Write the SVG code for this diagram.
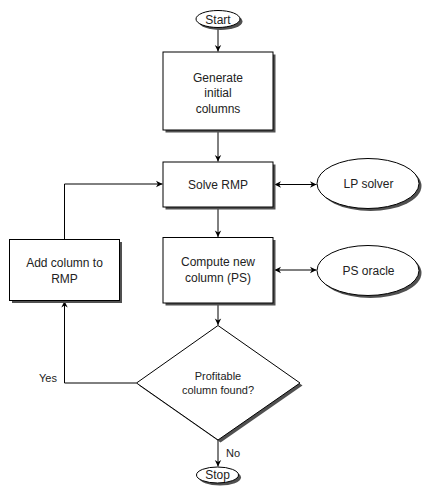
<svg xmlns="http://www.w3.org/2000/svg" width="422" height="486" viewBox="0 0 422 486">
<style>
.n{fill:#fff;stroke:#000;stroke-width:1}
.sh{fill:#505050;stroke:none}
.t{font-family:"Liberation Sans",Arial,sans-serif;font-size:12px;fill:#222;text-anchor:middle}
.s{font-size:11px}
.c{fill:none;stroke:#000;stroke-width:1}
</style>
<defs>
<marker id="ah" viewBox="-7 -4 8 8" refX="0" refY="0" markerWidth="8" markerHeight="8" markerUnits="userSpaceOnUse" orient="auto-start-reverse">
<path d="M0,0 L-6.5,-3.2 L-4.6,0 L-6.5,3.2 Z" fill="#000"/>
</marker>
</defs>
<rect width="422" height="486" fill="#fff"/>
<g id="connectors">
<path class="c" d="M218,28 V51.5" marker-end="url(#ah)"/>
<path class="c" d="M218,130 V161.5" marker-end="url(#ah)"/>
<path class="c" d="M218,207 V237" marker-end="url(#ah)"/>
<path class="c" d="M218,303 V325" marker-end="url(#ah)"/>
<path class="c" d="M218,440 V466.5" marker-end="url(#ah)"/>
<path class="c" d="M274.5,184.5 H316.5" marker-start="url(#ah)" marker-end="url(#ah)"/>
<path class="c" d="M274.5,270 H316.5" marker-start="url(#ah)" marker-end="url(#ah)"/>
<path class="c" d="M136.5,383 H64.5 V301" marker-end="url(#ah)"/>
<path class="c" d="M64.5,239.5 V184 H162.5" marker-end="url(#ah)"/>
<text class="t s" x="57" y="381.5" style="text-anchor:end">Yes</text>
<text class="t s" x="226" y="457" style="text-anchor:start">No</text>
</g>
<g id="start">
<ellipse class="sh" cx="220.5" cy="21.5" rx="22" ry="8.5"/>
<ellipse class="n" cx="218" cy="19" rx="22" ry="8.5"/>
<text class="t" x="218" y="23.5">Start</text>
</g>
<g id="generate">
<rect class="sh" x="165.5" y="54.5" width="110" height="78"/>
<rect class="n" x="163" y="52" width="110" height="78"/>
<text class="t" x="218" y="81.5">Generate</text>
<text class="t" x="218" y="97">initial</text>
<text class="t" x="218" y="112.5">columns</text>
</g>
<g id="solve">
<rect class="sh" x="165.5" y="164.5" width="110" height="45"/>
<rect class="n" x="163" y="162" width="110" height="45"/>
<text class="t" x="218" y="189">Solve RMP</text>
</g>
<g id="lp">
<ellipse class="sh" cx="370.5" cy="186" rx="51" ry="25"/>
<ellipse class="n" cx="368" cy="183.5" rx="51" ry="25"/>
<text class="t" x="368.5" y="188">LP solver</text>
</g>
<g id="compute">
<rect class="sh" x="165.5" y="240" width="110" height="65.5"/>
<rect class="n" x="163" y="237.5" width="110" height="65.5"/>
<text class="t" x="218" y="266">Compute new</text>
<text class="t" x="218" y="282">column (PS)</text>
</g>
<g id="ps">
<ellipse class="sh" cx="370.5" cy="273" rx="51" ry="25"/>
<ellipse class="n" cx="368" cy="270.5" rx="51" ry="25"/>
<text class="t" x="368.5" y="274.5">PS oracle</text>
</g>
<g id="add">
<rect class="sh" x="12" y="242" width="110" height="61"/>
<rect class="n" x="9.5" y="239.5" width="110" height="61"/>
<text class="t" x="64.5" y="267">Add column to</text>
<text class="t" x="64.5" y="283">RMP</text>
</g>
<g id="decision">
<polygon class="sh" points="220.5,328 302.5,385.5 220.5,442.5 139,385.5"/>
<polygon class="n" points="218,325.5 300,383 218,440 136.5,383"/>
<text class="t s" x="218" y="380">Profitable</text>
<text class="t s" x="218" y="394">column found?</text>
</g>
<g id="stop">
<ellipse class="sh" cx="220" cy="477.5" rx="21" ry="8"/>
<ellipse class="n" cx="217.5" cy="475" rx="21" ry="8"/>
<text class="t" x="217.5" y="479">Stop</text>
</g>
</svg>
